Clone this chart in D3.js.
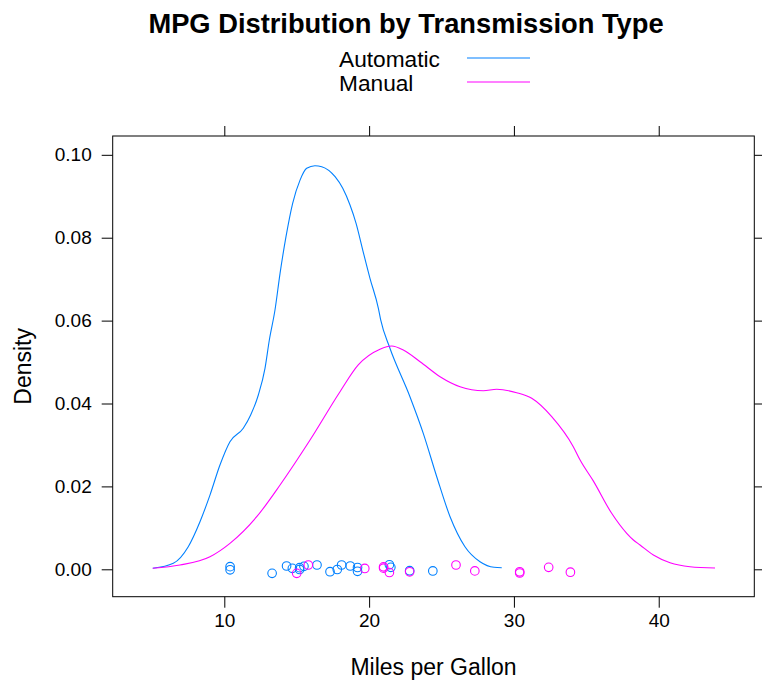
<!DOCTYPE html>
<html>
<head>
<meta charset="utf-8">
<script src="https://cdn.jsdelivr.net/npm/d3@7"></script>
<style>
  html, body { margin: 0; padding: 0; background: #fff; }
  svg { display: block; font-family: "Liberation Sans", Arial, sans-serif; }
</style>
</head>
<body>
<svg id="chart" width="762" height="681"></svg>
<script>
// ---- Data ----
const seriesNames = ["Automatic", "Manual"];
const seriesColors = ["#0080ff", "#ff00ff"];

// Density curve of Automatic: [mpg, density]
const autoDensity = [
  [5.06, 0.00024], [6.48, 0.00145], [7.51, 0.00545], [8.32, 0.01148], [9.01, 0.0179],
  [9.70, 0.02516], [10.39, 0.03078], [11.31, 0.03402], [11.82, 0.03723], [12.35, 0.04205],
  [12.81, 0.04849], [13.11, 0.05532], [13.50, 0.06256], [13.85, 0.07141], [14.26, 0.08024],
  [14.72, 0.0883], [15.23, 0.0939], [15.69, 0.09674], [16.26, 0.09737], [16.73, 0.09713],
  [17.65, 0.09472], [18.18, 0.09192], [18.68, 0.08789], [19.10, 0.08347], [19.56, 0.07703],
  [20.06, 0.07021], [20.64, 0.06297], [20.80, 0.06015], [21.42, 0.0535], [22.82, 0.04164],
  [23.74, 0.03281], [24.67, 0.02234], [25.59, 0.01269], [26.62, 0.00545], [27.66, 0.00183],
  [28.63, 0.00048], [29.16, 0.00039]
];

// Density curve of Manual: [mpg, density]
const manualDensity = [
  [5.06, 0.00024], [6.94, 0.00104], [9.01, 0.00304], [10.39, 0.00627], [12.24, 0.01269],
  [13.85, 0.02034], [15.92, 0.03119], [17.99, 0.04285], [19.25, 0.0493], [20.75, 0.05308],
  [21.56, 0.05387], [22.36, 0.05291], [23.52, 0.05008], [24.90, 0.04647], [26.28, 0.04405],
  [27.89, 0.04309], [28.81, 0.04343], [30.19, 0.0426], [31.23, 0.04125], [32.61, 0.03682],
  [34.10, 0.02958], [34.57, 0.02637], [35.48, 0.02134], [36.75, 0.01351], [37.79, 0.00868],
  [38.25, 0.00707], [38.71, 0.00586], [39.63, 0.00345], [40.78, 0.00159], [42.16, 0.00063],
  [43.89, 0.00031]
];

// Raw observations (rug points) and their vertical jitter (density units)
const autoMpg =    [21.4, 18.7, 18.1, 14.3, 24.4, 22.8, 19.2, 17.8, 16.4, 17.3, 15.2, 10.4, 10.4, 14.7, 21.5, 15.5, 15.2, 13.3, 19.2];
const autoJitter = [0.0011, 0.0008, 0.00104, 0.0008, -0.0004, -0.00034, 0.00043, -0.00005, 0.00104, -0.00058, 0.00039, 0.00063, -0.00012, 0.00024, 0.00048, 0.00072, -0.00005, -0.00097, -0.00048];
const manualMpg =    [21.0, 21.0, 22.8, 32.4, 30.4, 33.9, 27.3, 26.0, 30.4, 15.8, 19.7, 15.0, 21.4];
const manualJitter = [0.0006, 0.00027, -0.0006, 0.00048, -0.0006, -0.0007, -0.00039, 0.00104, -0.00089, 0.00104, 0.0002, -0.00097, -0.00077];

const xTicks = [10, 20, 30, 40];
const yTicks = [0.00, 0.02, 0.04, 0.06, 0.08, 0.10];
const xDomain = [2.293, 46.60];
const yDomain = [-0.00661, 0.10454];

const titleText = "MPG Distribution by Transmission Type";
const xLabel = "Miles per Gallon";
const yLabel = "Density";

// ---- Layout ----
const P = { left: 112.7, right: 754.3, top: 136, bottom: 596.7 };
const tickLen = 11;
const svg = d3.select("#chart");

const x = d3.scaleLinear().domain(xDomain).range([P.left, P.right]);
const y = d3.scaleLinear().domain(yDomain).range([P.bottom, P.top]);

// Axes
const axisStyle = g => {
  g.select(".domain").remove();
  g.selectAll(".tick line").attr("stroke", "#000").attr("stroke-width", 1);
  g.selectAll(".tick text").attr("fill", "#000")
    .style("font-family", '"Liberation Sans", Arial, sans-serif');
};

svg.append("g").attr("transform", `translate(0,${P.bottom})`)
  .call(d3.axisBottom(x).tickValues(xTicks).tickSize(tickLen).tickPadding(6).tickFormat(d3.format("d")))
  .call(axisStyle)
  .call(g => g.selectAll(".tick text").style("font-size", "19px").attr("dy", "0.71em"));

svg.append("g").attr("transform", `translate(0,${P.top})`)
  .call(d3.axisTop(x).tickValues(xTicks).tickSize(tickLen - 1).tickFormat(""))
  .call(axisStyle);

svg.append("g").attr("transform", `translate(${P.left},0)`)
  .call(d3.axisLeft(y).tickValues(yTicks).tickSize(tickLen).tickPadding(10).tickFormat(d3.format(".2f")))
  .call(axisStyle)
  .call(g => g.selectAll(".tick text").style("font-size", "19px"));

svg.append("g").attr("transform", `translate(${P.right},0)`)
  .call(d3.axisRight(y).tickValues(yTicks).tickSize(tickLen).tickFormat(""))
  .call(axisStyle);

// Panel border
svg.append("rect")
  .attr("x", P.left).attr("y", P.top)
  .attr("width", P.right - P.left).attr("height", P.bottom - P.top)
  .attr("fill", "none").attr("stroke", "#000").attr("stroke-width", 1);

// Curves
const line = d3.line().x(d => x(d[0])).y(d => y(d[1])).curve(d3.curveMonotoneX);
const curves = [autoDensity, manualDensity];
curves.forEach((c, i) => {
  svg.append("path").datum(c)
    .attr("d", line)
    .attr("fill", "none")
    .attr("stroke", seriesColors[i])
    .attr("stroke-width", 1.1);
});

// Points
const pts = [
  autoMpg.map((v, i) => ({ v, j: autoJitter[i], s: 0 })),
  manualMpg.map((v, i) => ({ v, j: manualJitter[i], s: 1 }))
];
pts.forEach(arr => {
  svg.append("g").selectAll("circle").data(arr).join("circle")
    .attr("cx", d => x(d.v))
    .attr("cy", d => y(d.j))
    .attr("r", 4.3)
    .attr("fill", "none")
    .attr("stroke", d => seriesColors[d.s])
    .attr("stroke-width", 1.1);
});

// Title
svg.append("text")
  .attr("x", 406).attr("y", 33)
  .attr("text-anchor", "middle")
  .style("font-size", "27.3px").style("font-weight", "bold")
  .text(titleText);

// Legend
const legend = svg.append("g");
seriesNames.forEach((name, i) => {
  const cy = 59 + i * 24;
  legend.append("text")
    .attr("x", 339).attr("y", cy + 8)
    .style("font-size", "22.7px")
    .text(name);
  legend.append("line")
    .attr("x1", 467).attr("x2", 530)
    .attr("y1", cy - 1).attr("y2", cy - 1)
    .attr("stroke", seriesColors[i]).attr("stroke-width", 1.1);
});

// Axis labels
svg.append("text")
  .attr("x", (P.left + P.right) / 2).attr("y", 675)
  .attr("text-anchor", "middle")
  .style("font-size", "23px")
  .text(xLabel);

svg.append("text")
  .attr("transform", `translate(31,${(P.top + P.bottom) / 2}) rotate(-90)`)
  .attr("text-anchor", "middle")
  .style("font-size", "23px")
  .text(yLabel);
</script>
</body>
</html>
